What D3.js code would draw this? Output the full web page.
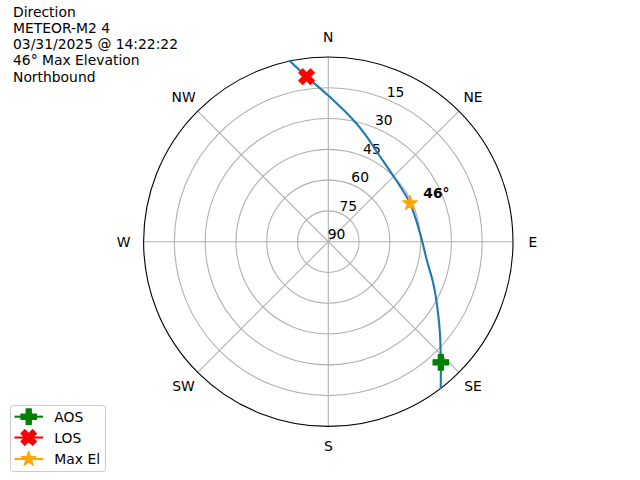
<!DOCTYPE html>
<html>
<head>
<meta charset="utf-8">
<script src="https://cdn.jsdelivr.net/npm/d3@7"></script>
<style>
  html, body { margin: 0; padding: 0; background: #fff; }
  svg { display: block; }
  text { font-family: "DejaVu Sans", sans-serif; }
</style>
</head>
<body>
<script>
// ---------- data ----------
const titleLines = ["Direction", "METEOR-M2 4", "03/31/2025 @ 14:22:22", "46\u00B0 Max Elevation", "Northbound"];
const directionLabels = ["N", "NE", "E", "SE", "S", "SW", "W", "NW"];
const directionAngles = [0, 45, 90, 135, 180, 225, 270, 315];
const elevationTicks = [15, 30, 45, 60, 75, 90];
// satellite track (azimuth deg clockwise from N, elevation deg)
const trackAz = [142.5, 137.0, 129.4, 120.8, 111.6, 100.5, 84.8, 64.8, 46.4, 28.3, 20.1, 12.5, 0.0, 352.5, 348.0];
const trackEl = [0.0, 9.6, 19.6, 28.2, 35.0, 41.2, 45.1, 46.0, 45.2, 40.2, 35.5, 30.1, 18.8, 8.9, 0.0];
const aos = { az: 137.0, el: 9.6 };
const los = { az: 352.5, el: 8.9 };
const maxEl = { az: 64.8, el: 46.0 };
const maxElLabel = "46\u00B0";
const legendLabels = ["AOS", "LOS", "Max El"];

// ---------- layout ----------
const W = 640, H = 480;
const cx = 328.3, cy = 241.7, R = 184.7;
const fs = 13.89;

const svg = d3.select("body").append("svg").attr("width", W).attr("height", H);

const rScale = d3.scaleLinear().domain([90, 0]).range([0, R]);
const toRad = d => d * Math.PI / 180;
const px = (az, el) => cx + rScale(el) * Math.sin(toRad(az));
const py = (az, el) => cy - rScale(el) * Math.cos(toRad(az));

const g = svg.append("g");

// grid rings
g.selectAll("circle.ring").data(elevationTicks.filter(d => d < 90)).enter()
  .append("circle").attr("class", "ring")
  .attr("cx", cx).attr("cy", cy).attr("r", d => rScale(d))
  .attr("fill", "none").attr("stroke", "#b0b0b0").attr("stroke-width", 1.1);

// spokes
g.selectAll("line.spoke").data(directionAngles).enter()
  .append("line").attr("class", "spoke")
  .attr("x1", cx).attr("y1", cy)
  .attr("x2", d => px(d, 0)).attr("y2", d => py(d, 0))
  .attr("stroke", "#b0b0b0").attr("stroke-width", 1.1);

// outer spine
g.append("circle").attr("cx", cx).attr("cy", cy).attr("r", R)
  .attr("fill", "none").attr("stroke", "#000").attr("stroke-width", 1.1);

// direction labels
g.selectAll("text.dir").data(directionLabels).enter()
  .append("text").attr("class", "dir")
  .attr("x", (d, i) => cx + (R + 20) * Math.sin(toRad(directionAngles[i])))
  .attr("y", (d, i) => cy - (R + 20) * Math.cos(toRad(directionAngles[i])))
  .attr("text-anchor", "middle").attr("dominant-baseline", "central")
  .attr("font-size", fs).text(d => d);

// radial labels
g.selectAll("text.rl").data(elevationTicks).enter()
  .append("text").attr("class", "rl")
  .attr("x", d => px(22.5, d) + 8.3)
  .attr("y", d => py(22.5, d) - 7.7)
  .attr("text-anchor", "middle").attr("dominant-baseline", "central")
  .attr("font-size", fs).text(d => d);

// track
const trackPts = trackAz.map((a, i) => [px(a, trackEl[i]), py(a, trackEl[i])]);
g.append("path").datum(trackPts)
  .attr("d", d3.line().curve(d3.curveCatmullRom.alpha(0.5)))
  .attr("fill", "none").attr("stroke", "#1f77b4").attr("stroke-width", 2.1)
  .attr("stroke-linecap", "square");

// marker shapes (unit size 1, extent -0.5..0.5)
const plusPts = [[-1,-3],[-1,-1],[-3,-1],[-3,1],[-1,1],[-1,3],[1,3],[1,1],[3,1],[3,-1],[1,-1],[1,-3]].map(p => [p[0]/6, p[1]/6]);
const xPts = [[-1,-2],[0,-1],[1,-2],[2,-1],[1,0],[2,1],[1,2],[0,1],[-1,2],[-2,1],[-1,0],[-2,-1]].map(p => [p[0]/4, p[1]/4]);
const starPts = d3.range(10).map(i => {
  const a = Math.PI * i / 5;
  const r = (i % 2 === 0) ? 0.5 : 0.5 * 0.381966;
  return [r * Math.sin(a), -r * Math.cos(a)];
});
const shapePath = (pts, s) => "M" + pts.map(p => (p[0] * s).toFixed(2) + "," + (p[1] * s).toFixed(2)).join("L") + "Z";
const mSize = 15.5;
const markerDefs = [
  { pts: plusPts, color: "green" },
  { pts: xPts, color: "red" },
  { pts: starPts, color: "orange" }
];
function drawMarker(sel, def, x, y) {
  sel.append("path").attr("d", shapePath(def.pts, mSize))
    .attr("transform", `translate(${x},${y})`)
    .attr("fill", def.color).attr("stroke", def.color).attr("stroke-width", 1.2)
    .attr("stroke-linejoin", "round");
}
const pts = [aos, los, maxEl];
pts.forEach((p, i) => drawMarker(g, markerDefs[i], px(p.az, p.el), py(p.az, p.el)));

// max elevation label
g.append("text").attr("x", 423.3).attr("y", 197.7)
  .attr("font-size", fs).attr("font-weight", "bold").text(maxElLabel);

// title block
svg.append("g").selectAll("text").data(titleLines).enter()
  .append("text").attr("x", 13).attr("y", (d, i) => 16.7 + i * 16.25)
  .attr("font-size", fs).text(d => d);

// legend
const lg = svg.append("g");
lg.append("rect").attr("x", 10.5).attr("y", 405.5).attr("width", 95).attr("height", 66)
  .attr("rx", 3).attr("fill", "#fff").attr("fill-opacity", 0.8)
  .attr("stroke", "#cccccc").attr("stroke-width", 1);
const legY = [416.7, 437.5, 459.0];
legendLabels.forEach((lab, i) => {
  const def = markerDefs[i];
  lg.append("line").attr("x1", 14.5).attr("x2", 43).attr("y1", legY[i]).attr("y2", legY[i])
    .attr("stroke", def.color).attr("stroke-width", 2.1);
  drawMarker(lg, def, 28.7, legY[i]);
  lg.append("text").attr("x", 54.3).attr("y", legY[i]).attr("dominant-baseline", "central")
    .attr("font-size", fs).text(lab);
});
</script>
</body>
</html>
